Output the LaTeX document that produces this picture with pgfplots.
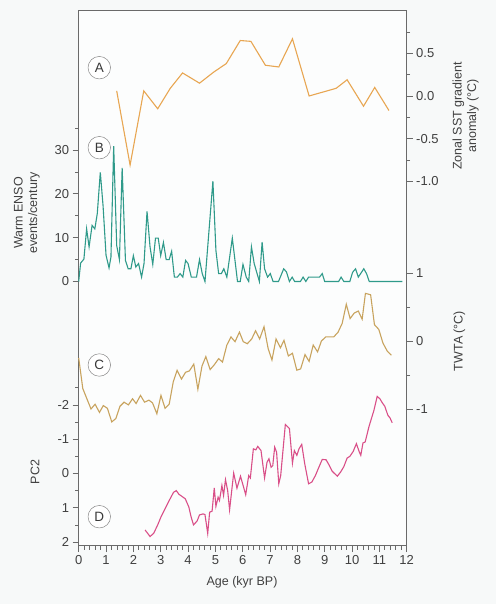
\documentclass[border=0pt]{standalone}
\usepackage{pgfplots}
\pgfplotsset{compat=1.18}
\usepackage{fontspec}
\setmainfont{Liberation Sans}
\definecolor{bgc}{HTML}{F7F9F9}
\definecolor{framec}{HTML}{6A6A6A}
\definecolor{txtc}{HTML}{404040}
\definecolor{colA}{HTML}{E8A652}
\definecolor{colB}{HTML}{2F9A8A}
\definecolor{colC}{HTML}{C8A35E}
\definecolor{colD}{HTML}{D94F88}
\pgfplotsset{
  panel/.style={
    at={(0,0)}, anchor=south west, width=328pt, height=535pt, scale only axis,
    xmin=0, xmax=12, hide x axis,
    y axis line style={draw=none},
    tick align=outside,
    major tick length=6pt, minor tick length=3.5pt,
    every tick/.style={framec, line width=0.7pt},
    tick label style={font=\fontsize{13}{15}\selectfont, text=txtc},
    /pgf/number format/assume math mode=true,
    clip=false,
  },
}
\begin{document}
\begin{tikzpicture}[x=1pt,y=1pt]
\fill[bgc] (-78.7,-58) rectangle (417.3,546);
\useasboundingbox (-78.7,-58) rectangle (417.3,546);
% frame axis
\begin{axis}[
  at={(0,0)}, anchor=south west, width=328pt, height=535pt, scale only axis,
  xmin=0, xmax=12, ymin=0, ymax=1,
  axis line style={framec, line width=1pt},
  axis background/.style={fill=white!60!bgc},
  xtick={0,1,...,12}, minor x tick num=4,
  ytick=\empty, xtick pos=bottom,
  tick align=outside,
  major tick length=6pt, minor tick length=3.5pt,
  every tick/.style={framec, line width=0.7pt},
  tick label style={font=\fontsize{13}{15}\selectfont, text=txtc},
  /pgf/number format/assume math mode=true,
]
\end{axis}
% Panel A
\begin{axis}[panel, axis y line*=right, ymin=-5.274, ymax=0.996,
  ytick={-1,-0.5,0,0.5}, minor ytick={-0.75,-0.25,0.25,0.75},
  yticklabel style={/pgf/number format/fixed, /pgf/number format/fixed zerofill, /pgf/number format/precision=1},
]
\addplot[colA, line width=1.1pt] coordinates {
(1.39,0.06) (1.88,-0.81) (2.38,0.06) (2.89,-0.15) (3.35,0.09) (3.80,0.27)
(4.42,0.15) (4.94,0.28) (5.40,0.38) (5.91,0.65) (6.30,0.64) (6.83,0.36)
(7.32,0.34) (7.82,0.67) (8.43,0.00) (9.42,0.09) (9.82,0.19) (10.42,-0.12)
(10.83,0.10) (11.35,-0.17)
};
\end{axis}
% Panel B
\begin{axis}[panel, axis y line*=left, ymin=-60.35, ymax=61.72,
  ytick={0,10,20,30}, minor ytick={5,15,25,35},
]
\addplot[colB, line width=1.1pt] coordinates {
(0,0) (0.07,4.2) (0.19,5.1) (0.29,12) (0.38,7.9) (0.49,12.8) (0.59,12)
(0.68,15.5) (0.79,24.9) (0.89,17.4) (1.0,6) (1.11,3.1) (1.18,5.6) (1.28,30.9)
(1.39,8.2) (1.49,5.0) (1.59,25.9) (1.71,4.8) (1.81,2.9) (1.91,2.9) (2.0,5.9)
(2.09,3.3) (2.19,4.1) (2.30,1.0) (2.39,4.1) (2.50,16) (2.61,7.9) (2.71,3.9)
(2.81,9.9) (2.91,9.9) (3.0,5.9) (3.10,8.9) (3.20,5.0) (3.31,5.0) (3.40,6.9)
(3.50,1.0) (3.61,1.0) (3.71,1.8) (3.81,1.0) (3.91,4.8) (4.0,4.1) (4.12,1.0)
(4.31,1.0) (4.42,5.0) (4.52,1.8) (4.62,0) (4.91,22.9) (5.02,7.1) (5.12,1.8)
(5.22,1.8) (5.31,2.9) (5.42,1.0) (5.62,9.9) (5.81,0) (5.91,0) (6.01,3.9)
(6.13,1.0) (6.22,0) (6.32,7.9) (6.42,4.1) (6.61,0) (6.71,9.0) (6.80,2.9)
(6.91,1.0) (7.01,1.8) (7.11,0) (7.31,0) (7.50,2.9) (7.60,2.2) (7.71,0)
(7.81,1.0) (7.90,0) (8.11,0) (8.21,1.0) (8.31,0) (8.41,1.0) (8.81,1.0)
(8.91,1.8) (9.0,0) (9.51,0) (9.60,1.0) (9.70,0) (9.92,0) (10.02,2.1)
(10.13,2.9) (10.23,1.0) (10.43,2.9) (10.53,1.8) (10.63,0) (11.84,0)
};
\end{axis}
% Panel C
\begin{axis}[panel, axis y line*=right, ymin=-3.015, ymax=4.853,
  ytick={-1,0,1}, minor ytick={-0.5,0.5},
]
\addplot[colC, line width=1.1pt] coordinates {
(0,-0.25) (0.15,-0.70) (0.29,-0.84) (0.45,-1.0) (0.60,-0.93) (0.76,-1.05)
(0.90,-0.95) (1.05,-0.99) (1.21,-1.19) (1.36,-1.14) (1.51,-0.96) (1.66,-0.90)
(1.82,-0.94) (1.97,-0.85) (2.10,-0.92) (2.26,-0.80) (2.41,-0.90) (2.57,-0.87)
(2.70,-0.91) (2.86,-1.07) (3.01,-0.80) (3.16,-0.99) (3.31,-0.93) (3.46,-0.60)
(3.60,-0.43) (3.76,-0.56) (3.91,-0.46) (4.05,-0.44) (4.21,-0.34) (4.36,-0.71)
(4.51,-0.37) (4.65,-0.23) (4.81,-0.42) (4.96,-0.35) (5.12,-0.26) (5.26,-0.31)
(5.42,-0.06) (5.57,0.06) (5.72,-0.01) (5.88,0.13) (6.02,-0.01) (6.17,-0.04)
(6.33,0.03) (6.47,0.15) (6.62,0.03) (6.78,0.21) (6.93,-0.11) (7.07,-0.28)
(7.22,0.03) (7.38,-0.10) (7.51,0.01) (7.67,-0.22) (7.82,-0.18) (7.98,-0.43)
(8.12,-0.41) (8.28,-0.20) (8.43,-0.30) (8.58,-0.06) (8.74,-0.16) (8.88,0.00)
(9.04,0.06) (9.19,0.06) (9.33,0.06) (9.49,0.13) (9.64,0.26) (9.79,0.54)
(9.93,0.33) (10.08,0.41) (10.23,0.44) (10.37,0.32) (10.49,0.70) (10.68,0.68)
(10.82,0.24) (10.98,0.17) (11.13,-0.03) (11.29,-0.15) (11.44,-0.21)
};
\end{axis}
% Panel D
\begin{axis}[panel, axis y line*=left, y dir=reverse, ymin=-13.50, ymax=2.117,
  ytick={-2,-1,0,1,2}, minor ytick={-2.5,-1.5,-0.5,0.5,1.5},
]
\addplot[colD, line width=1.1pt] coordinates {
(2.43,1.65) (2.61,1.84) (2.74,1.75) (2.88,1.52) (3.02,1.25) (3.16,1.03)
(3.31,0.79) (3.47,0.55) (3.57,0.50) (3.67,0.61) (3.78,0.67) (3.90,0.74)
(4.03,0.98) (4.11,1.26) (4.20,1.50) (4.33,1.39) (4.42,1.21) (4.55,1.18)
(4.62,1.20) (4.72,1.75) (4.79,1.13) (4.88,1.10) (4.96,0.42) (5.02,0.96)
(5.10,0.69) (5.15,0.79) (5.24,0.35) (5.30,0.64) (5.37,0.18) (5.45,0.50)
(5.52,1.06) (5.67,-0.01) (5.79,0.43) (5.92,0.08) (6.11,0.62) (6.22,0.06)
(6.28,0.13) (6.39,-0.72) (6.48,-0.69) (6.55,-0.79) (6.67,-0.67) (6.80,0.13)
(6.89,-0.33) (6.96,-0.43) (7.04,-0.18) (7.10,-0.23) (7.17,-0.77) (7.24,-0.62)
(7.32,0.30) (7.39,0.06) (7.56,-1.43) (7.71,-1.31) (7.82,-0.30) (7.89,-0.67)
(7.98,-0.53) (8.06,-0.72) (8.16,-0.85) (8.27,-0.28) (8.41,0.30) (8.53,0.25)
(8.66,0.06) (8.78,-0.17) (8.91,-0.41) (9.05,-0.40) (9.15,-0.26) (9.27,-0.07)
(9.46,0.08) (9.58,-0.04) (9.70,-0.20) (9.82,-0.45) (9.92,-0.50) (10.04,-0.64)
(10.16,-0.87) (10.26,-0.64) (10.32,-0.53) (10.40,-0.89) (10.48,-0.92)
(10.62,-1.37) (10.80,-1.84) (10.92,-2.25) (11.02,-2.18) (11.11,-2.06)
(11.20,-1.96) (11.31,-1.70) (11.39,-1.62) (11.47,-1.48)
};
\end{axis}
% panel letters
\foreach \yy/\ll in {478.3/A, 398.3/B, 181/C, 29.3/D}{
  \node[circle, draw=framec!80, line width=0.5pt, fill=white, inner sep=0pt, minimum size=22.5pt,
        font=\fontsize{13.5}{15}\selectfont, text=txtc!90!black] at (20.6,\yy) {\ll};
}
% axis labels
\node[rotate=90, align=center, font=\fontsize{12.5}{14.5}\selectfont, text=txtc] at (387,430) {Zonal SST gradient\\anomaly (°C)};
\node[rotate=90, font=\fontsize{12.5}{14.5}\selectfont, text=txtc] at (380.6,205) {TWTA (°C)};
\node[rotate=90, align=center, font=\fontsize{12.5}{14.5}\selectfont, text=txtc] at (-52,333) {Warm ENSO\\events/century};
\node[rotate=90, font=\fontsize{12.5}{14.5}\selectfont, text=txtc] at (-43.7,74) {PC2};
\node[font=\fontsize{12.5}{14.5}\selectfont, text=txtc] at (163.3,-36) {Age (kyr BP)};
\end{tikzpicture}
\end{document}
